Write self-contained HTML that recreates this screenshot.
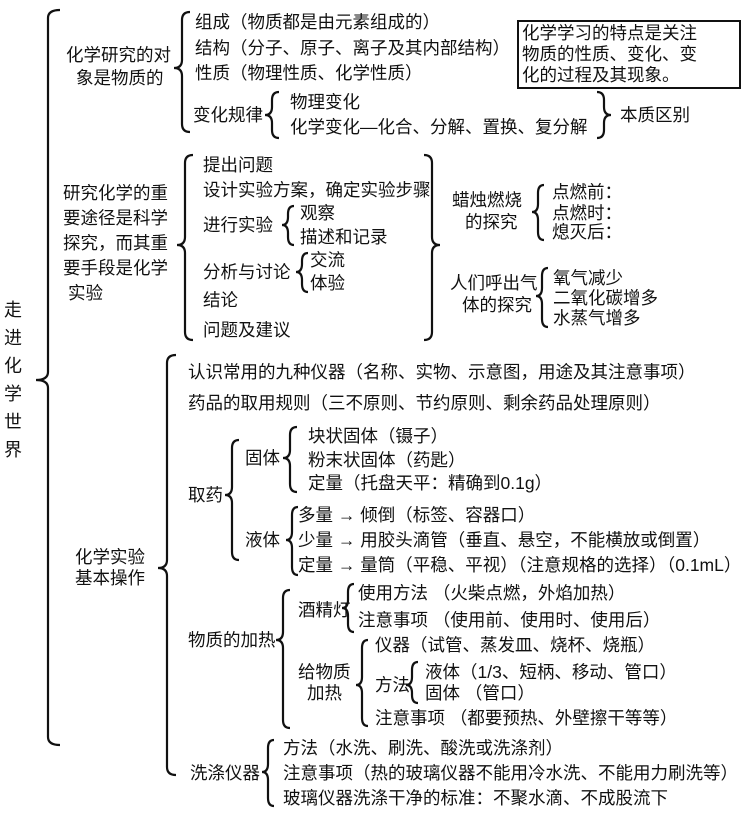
<!DOCTYPE html>
<html><head><meta charset="utf-8">
<style>
body{margin:0;background:#fff;}
#c{position:relative;width:750px;height:815px;overflow:hidden;font-family:"Liberation Sans","Noto Sans CJK SC",sans-serif;font-size:17.5px;color:#111;}
#c div{position:absolute;white-space:nowrap;line-height:20px;}
svg{position:absolute;left:0;top:0;}
.box{border:2px solid #111;padding:1px 3px;line-height:21px !important;}
</style></head><body>
<div id="c">
<svg id="s" width="750" height="815"></svg>
<div style="left:4px;top:296px;line-height:28px;white-space:normal;width:20px;font-size:18px">走<br>进<br>化<br>学<br>世<br>界</div>

<div style="left:66px;top:45px">化学研究的对</div>
<div style="left:76px;top:68px">象是物质的</div>
<div style="left:195px;top:12px">组成（物质都是由元素组成的）</div>
<div style="left:195px;top:38px">结构（分子、原子、离子及其内部结构）</div>
<div style="left:195px;top:63px">性质（物理性质、化学性质）</div>
<div style="left:193px;top:105px">变化规律</div>
<div style="left:290px;top:92px">物理变化</div>
<div style="left:290px;top:117px">化学变化—化合、分解、置换、复分解</div>
<div style="left:620px;top:105px">本质区别</div>
<div class="box" style="left:517px;top:20px;width:214px">化学学习的特点是关注<br>物质的性质、变化、变<br>化的过程及其现象。</div>

<div style="left:63px;top:183px">研究化学的重</div>
<div style="left:63px;top:208px">要途径是科学</div>
<div style="left:63px;top:233px">探究，而其重</div>
<div style="left:63px;top:258px">要手段是化学</div>
<div style="left:68px;top:283px">实验</div>
<div style="left:203px;top:155px">提出问题</div>
<div style="left:203px;top:180px">设计实验方案，确定实验步骤</div>
<div style="left:203px;top:215px">进行实验</div>
<div style="left:300px;top:203px">观察</div>
<div style="left:300px;top:227px">描述和记录</div>
<div style="left:203px;top:262px">分析与讨论</div>
<div style="left:310px;top:250px">交流</div>
<div style="left:310px;top:273px">体验</div>
<div style="left:203px;top:290px">结论</div>
<div style="left:203px;top:320px">问题及建议</div>
<div style="left:452px;top:190px">蜡烛燃烧</div>
<div style="left:465px;top:212px">的探究</div>
<div style="left:552px;top:182px">点燃前：</div>
<div style="left:552px;top:203px">点燃时：</div>
<div style="left:552px;top:222px">熄灭后：</div>
<div style="left:450px;top:273px">人们呼出气</div>
<div style="left:462px;top:295px">体的探究</div>
<div style="left:553px;top:268px">氧气减少</div>
<div style="left:553px;top:288px">二氧化碳增多</div>
<div style="left:553px;top:308px">水蒸气增多</div>

<div style="left:75px;top:547px">化学实验</div>
<div style="left:75px;top:568px">基本操作</div>
<div style="left:188px;top:362px">认识常用的九种仪器（名称、实物、示意图，用途及其注意事项）</div>
<div style="left:188px;top:393px">药品的取用规则（三不原则、节约原则、剩余药品处理原则）</div>
<div style="left:188px;top:485px">取药</div>
<div style="left:245px;top:448px">固体</div>
<div style="left:308px;top:426px">块状固体（镊子）</div>
<div style="left:308px;top:450px">粉末状固体（药匙）</div>
<div style="left:308px;top:473px">定量（托盘天平：精确到0.1g）</div>
<div style="left:245px;top:530px">液体</div>
<div style="left:298px;top:505px">多量 → 倾倒（标签、容器口）</div>
<div style="left:298px;top:530px">少量 → 用胶头滴管（垂直、悬空，不能横放或倒置）</div>
<div style="left:298px;top:555px">定量 → 量筒（平稳、平视）（注意规格的选择）（0.1mL）</div>
<div style="left:188px;top:630px">物质的加热</div>
<div style="left:298px;top:600px">酒精灯</div>
<div style="left:358px;top:583px">使用方法 （火柴点燃，外焰加热）</div>
<div style="left:358px;top:610px">注意事项 （使用前、使用时、使用后）</div>
<div style="left:298px;top:662px">给物质</div>
<div style="left:307px;top:683px">加热</div>
<div style="left:375px;top:635px">仪器（试管、蒸发皿、烧杯、烧瓶）</div>
<div style="left:375px;top:675px">方法</div>
<div style="left:425px;top:662px">液体（1/3、短柄、移动、管口）</div>
<div style="left:425px;top:683px">固体 （管口）</div>
<div style="left:375px;top:708px">注意事项 （都要预热、外壁擦干等等）</div>
<div style="left:190px;top:763px">洗涤仪器</div>
<div style="left:283px;top:738px">方法（水洗、刷洗、酸洗或洗涤剂）</div>
<div style="left:283px;top:763px">注意事项（热的玻璃仪器不能用冷水洗、不能用力刷洗等）</div>
<div style="left:283px;top:788px">玻璃仪器洗涤干净的标准：不聚水滴、不成股流下</div>
</div>
<script>
var b=[
[48,10,745,380,12,'L'],
[182,12,132,68,8,'L'],
[272,92,138,115,7,'L'],
[604,92,138,115,7,'R'],
[185,155,340,245,8,'L'],
[288,206,245,225,6,'L'],
[302,253,292,272,6,'L'],
[432,155,340,245,8,'R'],
[538,185,240,212,6,'L'],
[542,268,327,296,6,'L'],
[167,355,775,568,9,'L'],
[232,440,560,495,7,'L'],
[290,427,492,458,7,'L'],
[292,507,575,540,6,'L'],
[283,590,728,640,7,'L'],
[348,584,632,608,6,'L'],
[362,640,726,685,6,'L'],
[412,662,703,685,6,'L'],
[268,740,806,772,6,'L']];
var s='';
b.forEach(function(a){var x=a[0],y1=a[1],y2=a[2],m=a[3],w=a[4],d=a[5]=='L'?1:-1;
var r=Math.min(8,(m-y1)/2,(y2-m)/2);
s+='<path d="M'+(x+d*w)+','+y1+' Q'+x+','+y1+' '+x+','+(y1+r)+' L'+x+','+(m-r)+' Q'+x+','+m+' '+(x-d*w)+','+m+' Q'+x+','+m+' '+x+','+(m+r)+' L'+x+','+(y2-r)+' Q'+x+','+y2+' '+(x+d*w)+','+y2+'" fill="none" stroke="#111" stroke-width="2.2"/>';});
document.getElementById('s').innerHTML=s;
</script>
</body></html>
